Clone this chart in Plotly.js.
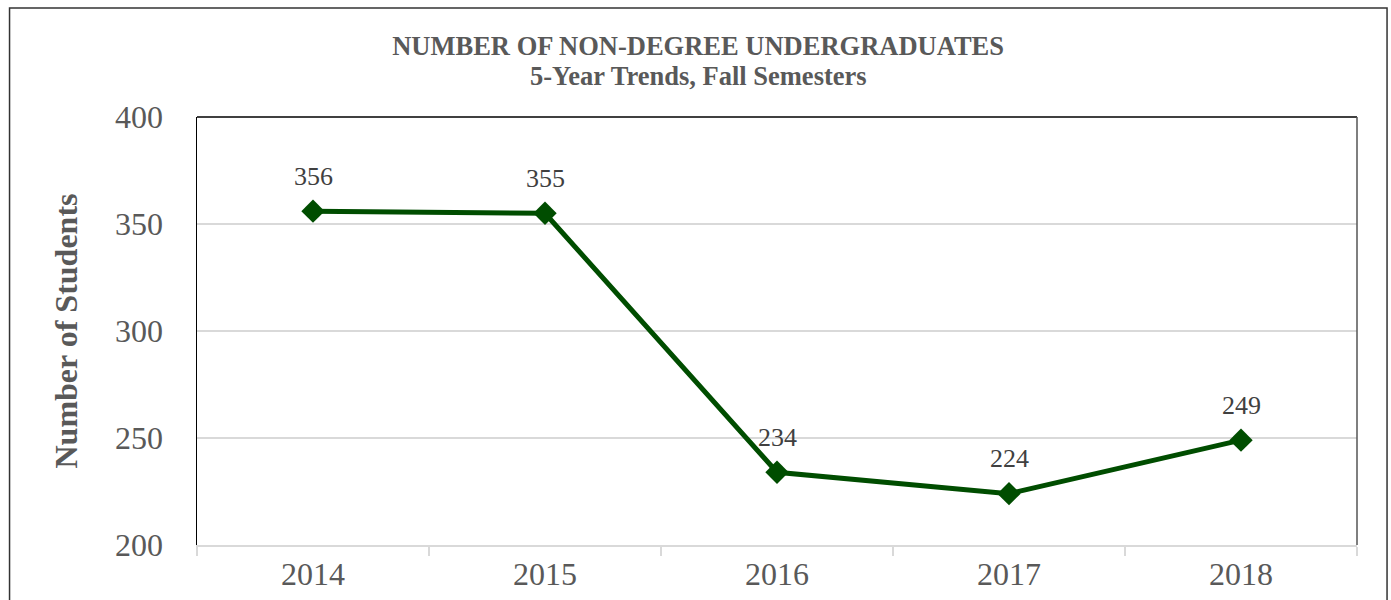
<!DOCTYPE html>
<html>
<head>
<meta charset="utf-8">
<script src="https://cdn.plot.ly/plotly-3.0.1.min.js"></script>
<style>html,body{margin:0;padding:0;background:#fff;}#chart{width:1391px;height:600px;}</style>
</head>
<body>
<div id="chart"></div>
<script>
const years = ['2014', '2015', '2016', '2017', '2018'];
const students = [356, 355, 234, 224, 249];
const yTicks = [200, 250, 300, 350, 400];
const titleMain = 'NUMBER OF NON-DEGREE UNDERGRADUATES';
const titleSub = '5-Year Trends, Fall Semesters';
const yTitle = 'Number of Students';

const serif = 'Liberation Serif, Times New Roman, serif';

const trace = {
  x: years,
  y: students,
  type: 'scatter',
  mode: 'lines+markers',
  line: {color: '#004d00', width: 5},
  marker: {symbol: 'diamond', size: 18, color: '#004d00'},
  cliponaxis: false,
  hoverinfo: 'x+y'
};

// category axis: annotation x given as the category index of each year
const labels = years.map((yr, i) => ({
  x: years.indexOf(yr), y: students[i], xref: 'x', yref: 'y',
  text: String(students[i]), showarrow: false,
  yshift: 35, yanchor: 'middle', xanchor: 'center',
  font: {family: serif, size: 26, color: '#404040'}
}));

const subtitle = {
  xref: 'paper', yref: 'paper', x: 0.432, y: 1.0958,
  xanchor: 'center', yanchor: 'middle', showarrow: false,
  text: '<b>' + titleSub + '</b>',
  font: {family: serif, size: 26.5, color: '#595959'}
};

const layout = {
  width: 1391,
  height: 600,
  margin: {l: 197, r: 34, t: 117, b: 55, pad: 0},
  paper_bgcolor: '#ffffff',
  plot_bgcolor: '#ffffff',
  showlegend: false,
  title: {
    text: '<b>' + titleMain + '</b>',
    font: {family: serif, size: 26.5, color: '#595959'},
    x: 0.432, xanchor: 'center', xref: 'paper',
    y: 0.94, yanchor: 'top'
  },
  xaxis: {
    type: 'category',
    categoryorder: 'array',
    categoryarray: years,
    range: [-0.5, 4.5],
    tickson: 'boundaries',
    ticks: 'outside',
    ticklen: 9,
    tickwidth: 1.5,
    tickcolor: '#d9d9d9',
    showline: true,
    linecolor: '#d9d9d9',
    linewidth: 1.5,
    showgrid: false,
    zeroline: false,
    tickfont: {family: serif, size: 32, color: '#595959'},
    fixedrange: true
  },
  yaxis: {
    range: [200, 400],
    tickvals: yTicks,
    ticktext: yTicks.map(String),
    showline: true,
    linecolor: '#000000',
    linewidth: 1.5,
    showgrid: true,
    gridcolor: '#d9d9d9',
    gridwidth: 1.5,
    zeroline: false,
    ticks: '',
    ticklabelstandoff: 26,
    tickfont: {family: serif, size: 32, color: '#595959'},
    title: {
      text: '<b>' + yTitle + '</b>',
      font: {family: serif, size: 32, color: '#595959'},
      standoff: 28
    },
    fixedrange: true
  },
  annotations: labels.concat([subtitle]),
  shapes: [
    {type: 'line', xref: 'paper', yref: 'paper', x0: 0, x1: 1, y0: 1, y1: 1,
     line: {color: '#000000', width: 1.5}},
    {type: 'line', xref: 'paper', yref: 'paper', x0: 1, x1: 1, y0: 0, y1: 1,
     line: {color: '#555555', width: 1.5}},
    {type: 'rect', xref: 'paper', yref: 'paper', x0: -0.1616, x1: 1.0259, y0: -0.2, y1: 1.2547,
     line: {color: '#333333', width: 1.5}, fillcolor: 'rgba(0,0,0,0)', layer: 'below'}
  ]
};

Plotly.newPlot('chart', [trace], layout, {displayModeBar: false, staticPlot: true});
</script>
</body>
</html>
